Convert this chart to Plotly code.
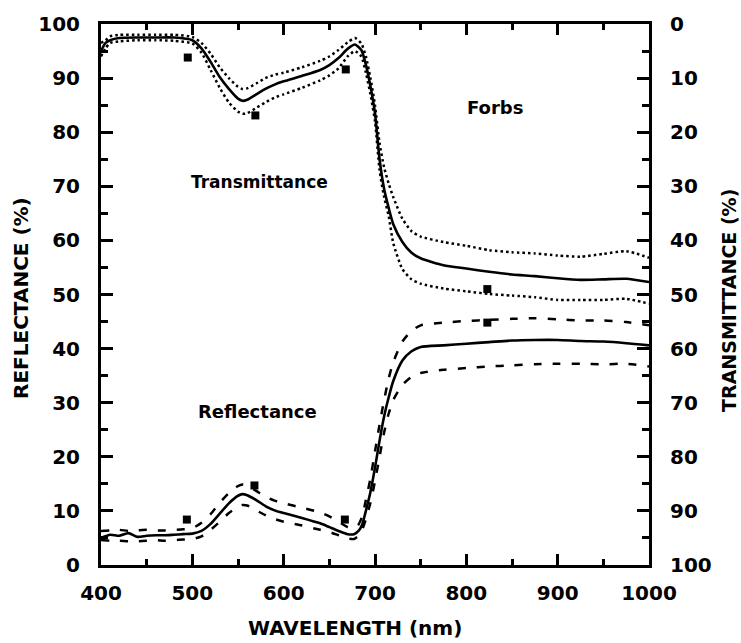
import plotly.graph_objects as go

# ---------------- data ----------------
wl_t = [400, 405, 410, 420, 440, 460, 480, 500, 510, 520, 530, 540, 550, 555, 560, 570, 580, 590, 600,
        620, 640, 650, 660, 670, 678, 685, 690, 695, 700, 705, 710, 715, 720, 730, 740, 750, 775, 800,
        825, 850, 875, 900, 925, 950, 975, 1000]
trans_mean = [5.0, 3.5, 3.0, 2.6, 2.5, 2.5, 2.5, 3.0, 4.5, 7.0, 9.8, 12.0, 13.8, 14.2, 14.0, 13.0, 12.0, 11.2, 10.6,
              9.6, 8.5, 7.6, 6.3, 4.6, 3.8, 4.8, 7.5, 11.5, 16.5, 25.0, 30.5, 34.0, 37.0, 40.3, 42.3, 43.3, 44.6, 45.2,
              45.8, 46.3, 46.6, 47.0, 47.3, 47.2, 47.1, 47.7]
trans_low = [3.5, 3.0, 2.3, 2.0, 2.0, 2.0, 2.0, 2.4, 3.5, 5.5, 8.0, 10.0, 11.6, 12.0, 11.9, 11.0, 10.0, 9.4, 9.0,
             8.0, 6.8, 6.0, 4.8, 3.4, 2.6, 3.6, 6.0, 10.0, 15.0, 22.0, 26.5, 29.5, 32.0, 36.0, 38.3, 39.3, 40.3, 41.0,
             41.8, 42.2, 42.4, 42.8, 43.0, 42.5, 42.0, 43.2]
trans_high = [6.0, 4.5, 3.5, 3.2, 3.0, 3.0, 3.1, 3.6, 5.3, 8.5, 11.8, 14.5, 16.2, 16.6, 16.5, 15.5, 14.5, 13.6, 13.0,
              11.8, 10.4, 9.5, 8.2, 6.0, 5.0, 6.0, 9.0, 13.0, 18.0, 27.0, 32.0, 35.5, 40.5, 45.3, 47.2, 48.0, 48.9, 49.4,
              49.9, 50.2, 50.5, 51.0, 51.0, 51.0, 50.8, 51.7]

wl_r = [400, 410, 420, 430, 440, 450, 460, 470, 480, 490, 500, 510, 520, 530, 540, 550, 555, 560, 570, 580,
        590, 600, 620, 640, 650, 660, 670, 677, 682, 686, 690, 695, 700, 705, 710, 715, 720, 730, 740, 750,
        775, 800, 825, 850, 875, 900, 925, 950, 975, 1000]
refl_mean = [5.0, 5.6, 5.4, 5.9, 5.2, 5.4, 5.5, 5.5, 5.6, 5.7, 5.8, 6.3, 7.6, 9.5, 11.4, 12.8, 13.1, 12.9, 12.0, 10.9,
             10.1, 9.6, 8.7, 7.7, 7.0, 6.3, 5.7, 5.7, 6.3, 7.5, 10.0, 13.5, 18.0, 23.0, 27.5, 31.0, 34.0, 37.8, 39.5, 40.3,
             40.6, 40.9, 41.2, 41.5, 41.6, 41.6, 41.4, 41.3, 41.0, 40.6]
refl_high = [6.3, 6.4, 6.5, 6.3, 6.4, 6.5, 6.4, 6.4, 6.5, 6.6, 6.8, 7.8, 9.4, 11.5, 13.3, 14.6, 14.9, 14.7, 13.7, 12.6,
             11.9, 11.4, 10.6, 9.7, 9.0, 8.0, 7.0, 6.8, 7.5, 9.0, 12.0, 16.0, 21.0, 26.0, 30.5, 34.5, 37.5, 41.3, 43.3, 44.3,
             44.8, 45.1, 45.3, 45.5, 45.6, 45.4, 45.2, 45.2, 44.9, 44.3]
refl_low = [4.6, 4.5, 4.5, 4.4, 4.4, 4.5, 4.6, 4.5, 4.6, 4.7, 4.8, 5.3, 6.5, 8.0, 9.6, 10.8, 11.1, 11.0, 10.1, 9.2,
            8.5, 8.0, 7.3, 6.5, 6.1, 5.5, 4.9, 4.8, 5.4, 6.5, 8.5, 11.5, 15.5, 20.0, 24.5, 28.0, 30.5, 33.3, 34.8, 35.5,
            36.1, 36.4, 36.7, 36.9, 37.1, 37.2, 37.2, 37.1, 37.2, 36.7]

band_wl_t = [495, 569, 668, 823]
band_trans = [6.2, 16.9, 8.4, 49.0]
band_wl_r = [494, 568, 667, 823]
band_refl = [8.4, 14.7, 8.4, 44.8]

x_ticks = [400, 500, 600, 700, 800, 900, 1000]
y_ticks = [0, 10, 20, 30, 40, 50, 60, 70, 80, 90, 100]

# ---------------- figure ----------------
FONT = "DejaVu Sans"
fig = go.Figure()

dot = "2.5px,3px"
dash = "8px,11px"

def line(x, y, yaxis, style):
    fig.add_trace(go.Scatter(x=x, y=y, yaxis=yaxis, mode="lines",
                             line=dict(color="black", width=2.6 if style == "solid" else 2.5,
                                       dash=style, shape="spline", smoothing=0.6),
                             showlegend=False, hoverinfo="skip"))

line(wl_t, trans_low, "y2", dot)
line(wl_t, trans_high, "y2", dot)
line(wl_t, trans_mean, "y2", "solid")
line(wl_r, refl_high, "y", dash)
line(wl_r, refl_low, "y", dash)
line(wl_r, refl_mean, "y", "solid")

fig.add_trace(go.Scatter(x=band_wl_t, y=band_trans, yaxis="y2", mode="markers",
                         marker=dict(symbol="square", size=8, color="black"), showlegend=False))
fig.add_trace(go.Scatter(x=band_wl_r, y=band_refl, yaxis="y", mode="markers",
                         marker=dict(symbol="square", size=8, color="black"), showlegend=False))

tickfont = dict(family=FONT, size=20, color="black", weight="bold")

L, R, T, B = 101, 649, 20, 565
W, H = 741, 643

fig.update_layout(
    width=W, height=H,
    margin=dict(l=L, r=W - R, t=T, b=H - B, pad=0),
    paper_bgcolor="white", plot_bgcolor="white",
    xaxis=dict(range=[400, 1000], tickvals=x_ticks, ticks="inside", ticklen=11, tickwidth=2.5,
               tickcolor="black", showline=True, linewidth=3, linecolor="black", mirror="ticks",
               showgrid=False, zeroline=False, tickfont=tickfont, ticklabelstandoff=8,
               minor=dict(dtick=50, ticks="inside", ticklen=6, tickwidth=2.5, tickcolor="black", showgrid=False)),
    yaxis=dict(range=[0, 100], tickvals=y_ticks, ticks="inside", ticklen=12, tickwidth=2.5,
               tickcolor="black", showline=True, linewidth=3, linecolor="black",
               showgrid=False, zeroline=False, tickfont=tickfont, ticklabelstandoff=14,
               minor=dict(dtick=5, ticks="inside", ticklen=7, tickwidth=2.5, tickcolor="black", showgrid=False)),
    yaxis2=dict(range=[100, 0], overlaying="y", side="right", tickvals=y_ticks, ticks="inside",
                ticklen=12, tickwidth=2.5, tickcolor="black", showline=True, linewidth=3, linecolor="black",
                showgrid=False, zeroline=False, tickfont=tickfont, ticklabelstandoff=14,
                minor=dict(dtick=5, ticks="inside", ticklen=7, tickwidth=2.5, tickcolor="black", showgrid=False)),
)

def px(xp, yp):
    return (xp - L) / (R - L), (B - yp) / (B - T)

anns = []
for text, (xp, yp), size, ang in [
    ("WAVELENGTH (nm)", (355, 628), 20, 0),
    ("REFLECTANCE (%)", (21, 296), 20, -90),
    ("TRANSMITTANCE (%)", (729, 299), 19, -90),
]:
    xx, yy = px(xp, yp)
    anns.append(dict(text=text, x=xx, y=yy, xref="paper", yref="paper", showarrow=False,
                     textangle=ang, xanchor="center", yanchor="middle",
                     font=dict(family=FONT, size=size, color="black", weight="bold")))

for text, xv, yv, size in [("Transmittance", 574, 70.8, 17), ("Reflectance", 571, 28.4, 18), ("Forbs", 831, 84.6, 18)]:
    anns.append(dict(text=text, x=xv, y=yv, xref="x", yref="y", showarrow=False,
                     xanchor="center", yanchor="middle",
                     font=dict(family=FONT, size=size, color="black", weight="bold")))

fig.update_layout(annotations=anns)
fig.write_html("out.html")
